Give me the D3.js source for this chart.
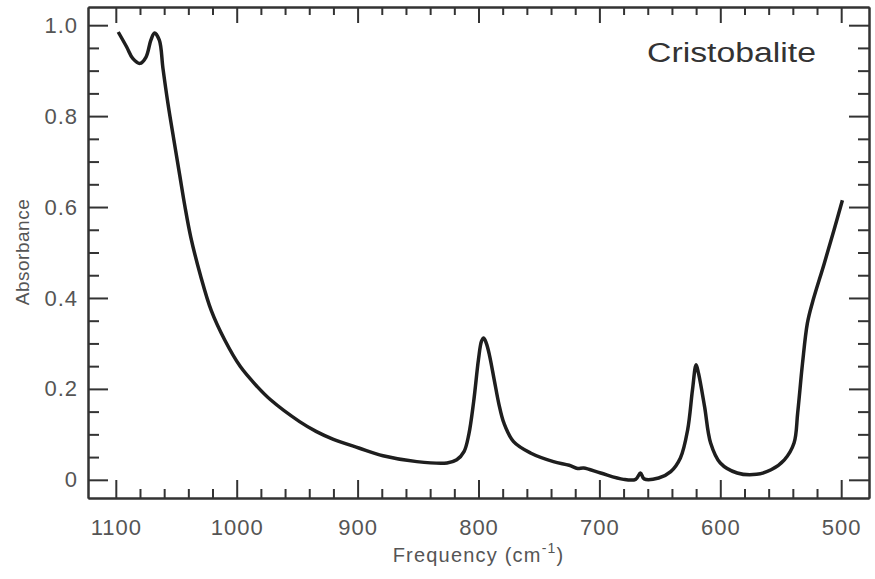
<script src="https://d3js.org/d3.v7.min.js"></script>
<body style="margin:0;background:#fff"></body>
<script>
    var width = 875;
    var height = 579;

    // spectrum
    var freq = [1098, 1091, 1086, 1080, 1075, 1071, 1068, 1064, 1061, 1057, 1052, 1047, 1043, 1038,
        1030, 1021, 1010, 997, 983, 972, 948, 934, 920, 899, 879, 851, 826, 818, 812, 808, 804, 800,
        797.5, 795.7, 793.5, 791, 787, 783, 779, 771, 757, 738, 725, 718, 713, 699, 680, 670, 666, 663, 651, 641,
        633, 627, 623, 620, 618, 613, 608, 600, 586, 570, 558, 547, 539, 536, 532, 528, 524, 514, 506, 499];
    var absorbance = [0.985, 0.952, 0.927, 0.916, 0.930, 0.967, 0.983, 0.967, 0.905, 0.830, 0.748, 0.668, 0.604, 0.534,
        0.450, 0.372, 0.308, 0.249, 0.205, 0.176, 0.128, 0.106, 0.089, 0.070, 0.053, 0.040, 0.037, 0.044, 0.062, 0.100, 0.172, 0.265,
        0.305, 0.312, 0.300, 0.275, 0.220, 0.165, 0.125, 0.084, 0.059, 0.040, 0.032, 0.025, 0.026, 0.015, 0.001, 0.001, 0.015, 0.002, 0.004, 0.018,
        0.048, 0.110, 0.198, 0.253, 0.234, 0.161, 0.081, 0.037, 0.015, 0.012, 0.022, 0.044, 0.081, 0.147, 0.256, 0.344, 0.388, 0.476, 0.549, 0.615];

    var xMajor = [1100, 1000, 900, 800, 700, 600, 500];
    var yMajor = [0, 0.2, 0.4, 0.6, 0.8, 1.0];
    var yLabels = ["0", "0.2", "0.4", "0.6", "0.8", "1.0"];

    var xMinor = d3.range(520, 1100, 20).filter(function(v){ return v % 100 != 0; });
    var yMinor = d3.range(0, 21).map(function(i){ return i * 0.05; }).filter(function(v, i){ return i % 4 != 0; });

    var plotLeft = 88, plotRight = 869, plotTop = 7, plotBottom = 498;

    var svg = d3.select("body")
    .append("svg")
    .attr("width", width)
    .attr("height", height);

    var scaleX = d3.scaleLinear()
    .domain([1123, 477])
    .range([plotLeft, plotRight]);

    var scaleY = d3.scaleLinear()
    .domain([-0.04, 1.04])
    .range([plotBottom, plotTop]);

    var points = [];
    for(var i=0; i<freq.length; i++){
        points.push([freq[i], absorbance[i]]);
    }

    // frame + ticks (all ticks point inward)
    function styleAxis(g){
        g.selectAll("path").attr("stroke", "#333").attr("stroke-width", 2);
        g.selectAll("line").attr("stroke", "#333").attr("stroke-width", 2);
        g.selectAll("text")
        .style("font-family", "Liberation Sans, Arial, sans-serif")
        .style("font-size", "22px")
        .style("letter-spacing", "1px")
        .attr("fill", "#555");
    }

    svg.append("g")
    .attr("transform", "translate(0," + plotBottom + ")")
    .call(d3.axisBottom(scaleX).tickValues(xMajor).tickSizeInner(-18).tickSizeOuter(0).tickPadding(21).tickFormat(d3.format("d")))
    .call(styleAxis);

    svg.append("g")
    .attr("transform", "translate(0," + plotBottom + ")")
    .call(d3.axisBottom(scaleX).tickValues(xMinor).tickSizeInner(-9).tickSizeOuter(0).tickFormat(""))
    .call(styleAxis);

    svg.append("g")
    .attr("transform", "translate(0," + plotTop + ")")
    .call(d3.axisTop(scaleX).tickValues(xMajor).tickSizeInner(-16).tickSizeOuter(0).tickFormat(""))
    .call(styleAxis);

    svg.append("g")
    .attr("transform", "translate(0," + plotTop + ")")
    .call(d3.axisTop(scaleX).tickValues(xMinor).tickSizeInner(-8).tickSizeOuter(0).tickFormat(""))
    .call(styleAxis);

    svg.append("g")
    .attr("transform", "translate(" + plotLeft + ",0)")
    .call(d3.axisLeft(scaleY).tickValues(yMajor).tickSizeInner(-20).tickSizeOuter(0).tickPadding(10)
        .tickFormat(function(d, i){ return yLabels[i]; }))
    .call(styleAxis);

    svg.append("g")
    .attr("transform", "translate(" + plotLeft + ",0)")
    .call(d3.axisLeft(scaleY).tickValues(yMinor).tickSizeInner(-11).tickSizeOuter(0).tickFormat(""))
    .call(styleAxis);

    svg.append("g")
    .attr("transform", "translate(" + plotRight + ",0)")
    .call(d3.axisRight(scaleY).tickValues(yMajor).tickSizeInner(-20).tickSizeOuter(0).tickFormat(""))
    .call(styleAxis);

    svg.append("g")
    .attr("transform", "translate(" + plotRight + ",0)")
    .call(d3.axisRight(scaleY).tickValues(yMinor).tickSizeInner(-11).tickSizeOuter(0).tickFormat(""))
    .call(styleAxis);

    // the spectrum
    var line = d3.line()
    .x(function(d){ return scaleX(d[0]); })
    .y(function(d){ return scaleY(d[1]); })
    .curve(d3.curveCatmullRom.alpha(0.5));

    svg.append("path")
    .datum(points)
    .attr("d", line)
    .attr("fill", "none")
    .attr("stroke", "#1e1e1e")
    .attr("stroke-width", 3.5)
    .attr("stroke-linejoin", "round");

    // labels
    svg.append("text")
    .attr("x", 647)
    .attr("y", 62)
    .attr("textLength", 169)
    .attr("lengthAdjust", "spacingAndGlyphs")
    .text("Cristobalite")
    .style("font-family", "Liberation Sans, Arial, sans-serif")
    .style("font-size", "27px")
    .attr("fill", "#333");

    var xl = svg.append("text")
    .attr("x", (plotLeft + plotRight) / 2)
    .attr("y", 562)
    .attr("text-anchor", "middle")
    .style("font-family", "Liberation Sans, Arial, sans-serif")
    .style("font-size", "20px")
    .style("letter-spacing", "1.2px")
    .attr("fill", "#555");
    xl.append("tspan").text("Frequency (cm");
    xl.append("tspan").attr("dy", -9).style("font-size", "14px").text("-1");
    xl.append("tspan").attr("dy", 9).text(")");

    svg.append("text")
    .attr("transform", "translate(29,252) rotate(-90)")
    .attr("text-anchor", "middle")
    .text("Absorbance")
    .style("font-family", "Liberation Sans, Arial, sans-serif")
    .style("font-size", "19px")
    .style("letter-spacing", "0.5px")
    .attr("fill", "#555");
</script>
